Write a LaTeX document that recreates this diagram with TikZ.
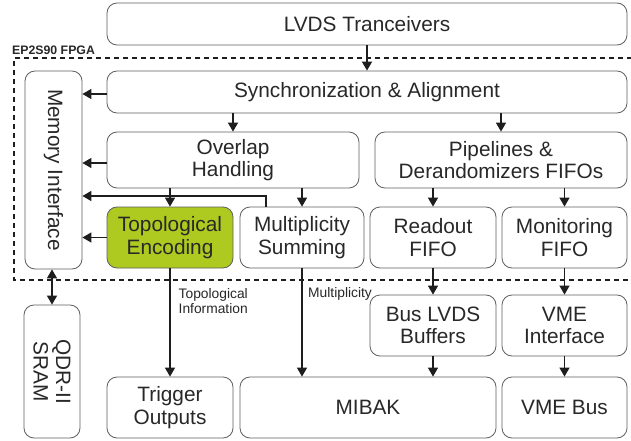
\documentclass[tikz,border=0pt]{standalone}
\usepackage{fontspec}
\setmainfont{Liberation Sans}
\usetikzlibrary{arrows.meta}
\definecolor{boxgray}{RGB}{95,95,95}
\definecolor{txt}{RGB}{40,40,40}
\definecolor{arrc}{RGB}{30,30,30}
\definecolor{topogreen}{RGB}{174,201,32}
\begin{document}
\begin{tikzpicture}[x=1pt,y=-1pt,
 blk/.style={draw=boxgray, line width=0.8pt, rounded corners=10pt, fill=white, inner sep=0pt,
   font=\fontsize{20.8}{22.5}\selectfont, text=txt, align=center},
 rlbl/.style={font=\fontsize{20.8}{22.5}\selectfont, text=txt, align=center, rotate=-90, inner sep=0pt},
 small/.style={font=\fontsize{13.8}{15}\selectfont, text=txt, align=left, inner sep=0pt},
 arr/.style={draw=arrc, line width=1.4pt, -{Triangle[length=9pt,width=10pt]}},
 darr/.style={draw=arrc, line width=1.4pt, {Triangle[length=9pt,width=10pt]}-{Triangle[length=9pt,width=10pt]}},
 frame/.style={draw=arrc, line width=1.2pt, dash pattern=on 5pt off 4pt},
]
\useasboundingbox (0,0) rectangle (631,441);
\fill[white] (0,0) rectangle (631,441);

% FPGA frame
\draw[frame] (632,58) -- (14,58) -- (14,280) -- (632,280);
\node[font=\bfseries\fontsize{12.3}{14}\selectfont, text=txt, anchor=south west, inner sep=0pt] (fpga) at (12,55) {EP2S90 FPGA};

% blocks
\node[blk, minimum width=520, minimum height=42] (lvds) at (367,24) {LVDS Tranceivers};
\node[blk, minimum width=520, minimum height=42] (sync) at (367,92) {Synchronization \& Alignment};
\node[blk, minimum width=252, minimum height=56] (overlap) at (233,160) {Overlap\\Handling};
\node[blk, minimum width=252, minimum height=56] (pipe) at (501,160) {Pipelines \&\\Derandomizers FIFOs};
\node[blk, fill=topogreen, minimum width=126, minimum height=61] (topo) at (170,237.5) {Topological\\Encoding};
\node[blk, minimum width=124, minimum height=61] (mult) at (302,237.5) {Multiplicity\\Summing};
\node[blk, minimum width=126, minimum height=61] (readout) at (433,237.5) {Readout\\FIFO};
\node[blk, minimum width=125, minimum height=61] (monit) at (564.5,237.5) {Monitoring\\FIFO};
\node[blk, minimum width=126, minimum height=61] (bus) at (433,325.5) {Bus LVDS\\Buffers};
\node[blk, minimum width=125, minimum height=61] (vmei) at (564.5,325.5) {VME\\Interface};
\node[blk, minimum width=126, minimum height=61] (trig) at (170,407.5) {Trigger\\Outputs};
\node[blk, minimum width=256, minimum height=61] (mibak) at (368,407.5) {MIBAK};
\node[blk, minimum width=125, minimum height=61] (vmebus) at (564.5,407.5) {VME Bus};
\node[blk, minimum width=57, minimum height=198] (mem) at (53.5,170) {};
\node[rlbl] (memt) at (mem.center) {Memory Interface};
\node[blk, minimum width=56, minimum height=133] (qdr) at (52,371.5) {};
\node[rlbl] (qdrt) at (qdr.center) {QDR-II\\SRAM};

% connectors
\draw[arr] (lvds.south) -- (sync.north);
\draw[arr] ([yshift=-2pt]sync.west) -- ([yshift=-2pt]sync.west -| mem.east);
\draw[arr] ([yshift=-3pt]overlap.west) -- ([yshift=-3pt]overlap.west -| mem.east);
\draw[arr] (sync.south -| overlap.north) -- (overlap.north);
\draw[arr] (sync.south -| pipe.north) -- (pipe.north);
\draw[arr] (overlap.south -| topo.north) -- (topo.north);
\draw[arr] (overlap.south -| mult.north) -- (mult.north);
\coordinate (bend) at (266,196);
\draw[arr] (bend |- mult.north) |- (mem.east |- bend);
\draw[arr] (pipe.south -| readout.north) -- (readout.north);
\draw[arr] (pipe.south -| monit.north) -- (monit.north);
\draw[arr] (topo.west) -- (topo.west -| mem.east);
\draw[arr] (topo.south) -- (trig.north);
\draw[arr] (mult.south) -- (mibak.north -| mult.south);
\draw[arr] (readout.south) -- (bus.north);
\draw[arr] (monit.south) -- (vmei.north);
\draw[arr] (bus.south) -- (mibak.north -| bus.south);
\draw[arr] (vmei.south) -- (vmebus.north);
\draw[darr] (mem.south -| qdr.north) -- (qdr.north);

% connector labels
\node[small, anchor=north west] (toplbl) at (178.5,288) {Topological\\Information};
\node[small, anchor=north west] (multlbl) at (308,287.5) {Multiplicity};
\end{tikzpicture}
\end{document}
